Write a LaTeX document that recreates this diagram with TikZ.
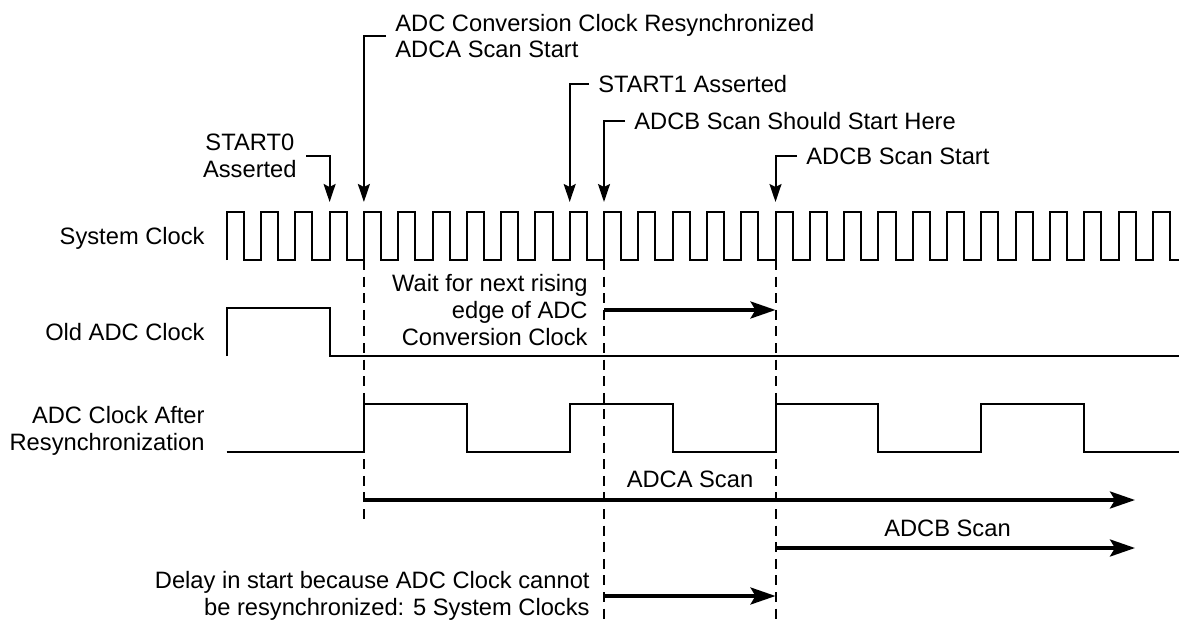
\documentclass[tikz,border=0pt]{standalone}
\usepackage{fontspec}
\setmainfont{Liberation Sans}
\usetikzlibrary{arrows.meta}
\tikzset{
  wave/.style={line width=1pt},
  guide/.style={line width=1pt,dash pattern=on 5pt off 3.3pt},
  pointer/.style={line width=1pt,-{Stealth[length=9pt,width=6pt,inset=1.5pt]}},
  span/.style={line width=1.8pt,-{Stealth[length=12.5pt,width=8.5pt,inset=2.5pt]}},
  lbl/.style={inner sep=4.5pt,font=\fontsize{11.85}{13.4}\selectfont},
}
\begin{document}
\begin{tikzpicture}[x=0.5pt,y=-0.5pt]
    \useasboundingbox (0,0) rectangle (1179,621);
    % --- rising edges of the system clock that are pointed at ---
    \foreach \k in {3,4,10,11,16}{\coordinate (e\k) at ({226.7+34.3*\k},202);}
    % --- waveforms ---
    \draw[wave] (226.7,260) foreach \k in {0,...,26}{ -- ++(0,-48) -- ++(17.15,0) -- ++(0,48) -- ++(17.15,0)}
      -- ++(0,-48) -- ++(17.15,0) -- ++(0,48) -- (1179,260);
    \draw[wave] (226.7,356) -- (226.7,308) -- (e3 |- 0,308) -- (e3 |- 0,356) -- (1179,356);
    \draw[wave] (226.7,452) foreach \r in {363.9,569.7,775.5,981.3}{
      -- (\r,452) -- (\r,404) -- ({\r+102.9},404) -- ({\r+102.9},452)} -- (1179,452);
    \foreach \y/\n/\txt in {238/sysclk/System Clock, 332/oldclk/Old ADC Clock,
        431/newclk/{ADC Clock After\\Resynchronization}}
      {\node[lbl,anchor=east,align=right] (\n) at (214,\y) {\txt};}
    % --- events on the system clock ---
    \node[lbl,anchor=east,align=center] (start0) at (306,156) {START0\\Asserted};
    \node[lbl,anchor=west,align=left] (resync) at (386,36) {ADC Conversion Clock Resynchronized\\ADCA Scan Start};
    \node[lbl,anchor=west] (start1) at (589,84) {START1 Asserted};
    \node[lbl,anchor=west] (bshould) at (625,121) {ADCB Scan Should Start Here};
    \node[lbl,anchor=west] (bstart) at (797,156) {ADCB Scan Start};
    \foreach \n/\e in {start0/e3,resync/e4,start1/e10,bshould/e11,bstart/e16}
      {\draw[pointer] (\n) -| (\e);}
    % --- guides and spans ---
    \draw[guide] (e4 |- 0,260) -- (e4 |- 0,523);
    \foreach \k in {11,16}{\draw[guide] (e\k |- 0,260) -- (e\k |- 0,621);}
    \node[lbl,anchor=east,align=right] (wait) at (597,310) {Wait for next rising\\edge of ADC\\Conversion Clock};
    \node[lbl,anchor=east,align=right] (delay) at (599,596) {Delay in start because ADC Clock cannot\\be resynchronized: 5 System Clocks};
    \node[lbl] (ascan) at (690,479.5) {ADCA Scan};
    \node[lbl] (bscan) at (947.5,528) {ADCB Scan};
    \coordinate (aend) at (1135,500);
    \coordinate (bend) at (1135,548);
    \draw[span] (e4 |- aend) -- (aend);
    \draw[span] (e16 |- bend) -- (bend);
    \draw[span] (e11 |- wait) -- (e16 |- wait);
    \draw[span] (e11 |- delay) -- (e16 |- delay);
\end{tikzpicture}
\end{document}
